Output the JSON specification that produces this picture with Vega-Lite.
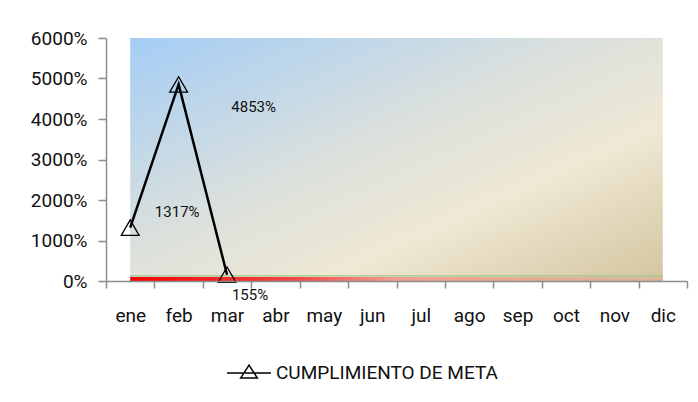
{
  "$schema": "https://vega.github.io/schema/vega-lite/v6.json",
  "width": 581,
  "height": 243,
  "autosize": {"type": "none"},
  "padding": {"left": 106, "top": 38, "right": 11, "bottom": 121},
  "background": "white",
  "config": {"view": {"stroke": null}, "font": "Roboto, sans-serif"},
  "datasets": {
    "cumplimiento": [
      {"mes": "ene", "valor": 1317, "serie": "CUMPLIMIENTO DE META"},
      {"mes": "feb", "valor": 4853, "serie": "CUMPLIMIENTO DE META"},
      {"mes": "mar", "valor": 155, "serie": "CUMPLIMIENTO DE META"}
    ],
    "fondo": [{"desde": "ene", "hasta": "dic", "minimo": 0, "maximo": 6000}],
    "meta": [
      {"mes": "ene", "meta": 125, "base": 100},
      {"mes": "feb", "meta": 125, "base": 100},
      {"mes": "mar", "meta": 125, "base": 100},
      {"mes": "abr", "meta": 125, "base": 100},
      {"mes": "may", "meta": 125, "base": 100},
      {"mes": "jun", "meta": 125, "base": 100},
      {"mes": "jul", "meta": 125, "base": 100},
      {"mes": "ago", "meta": 125, "base": 100},
      {"mes": "sep", "meta": 125, "base": 100},
      {"mes": "oct", "meta": 125, "base": 100},
      {"mes": "nov", "meta": 125, "base": 100},
      {"mes": "dic", "meta": 125, "base": 100}
    ]
  },
  "resolve": {"scale": {"x": "shared", "y": "shared"}},
  "layer": [
    {
      "data": {"name": "fondo"},
      "mark": {
        "type": "rect",
        "fill": {
          "gradient": "linear", "x1": 0, "y1": 0, "x2": 1, "y2": 1,
          "stops": [
            {"offset": 0, "color": "#a4cdf5"},
            {"offset": 0.45, "color": "#dde1dc"},
            {"offset": 0.68, "color": "#efe8d4"},
            {"offset": 1, "color": "#d3c59f"}
          ]
        }
      },
      "encoding": {
        "x": {"field": "desde", "type": "ordinal", "bandPosition": 0.5,
              "scale": {"domain": ["ene","feb","mar","abr","may","jun","jul","ago","sep","oct","nov","dic"], "paddingInner": 0, "paddingOuter": 0},
              "axis": {"title": null, "labelAngle": 0, "domainColor": "#8c8c8c", "tickColor": "#8c8c8c", "tickSize": 7, "tickBand": "extent", "labelFontSize": 19, "labelColor": "#111", "labelPadding": 18, "domainWidth": 1.5, "tickWidth": 1.5}},
        "x2": {"field": "hasta", "bandPosition": 0.5},
        "y": {"field": "minimo", "type": "quantitative", "scale": {"domain": [0, 6000], "nice": false},
              "axis": {"title": null, "values": [0, 1000, 2000, 3000, 4000, 5000, 6000], "labelExpr": "datum.value + '%'", "grid": false, "domainColor": "#8c8c8c", "tickColor": "#8c8c8c", "tickSize": 8, "labelFontSize": 19, "labelColor": "#111", "labelPadding": 11, "domainWidth": 1.5, "tickWidth": 1.5}},
        "y2": {"field": "maximo"}
      }
    },
    {
      "data": {"name": "meta"},
      "mark": {
        "type": "area",
        "fill": {
          "gradient": "linear", "x1": 0, "y1": 0, "x2": 1, "y2": 0,
          "stops": [
            {"offset": 0, "color": "#ff0000"},
            {"offset": 0.3, "color": "#f24545"},
            {"offset": 0.5, "color": "#f3a090"},
            {"offset": 1, "color": "#d9b89a"}
          ]
        }
      },
      "encoding": {
        "x": {"field": "mes", "type": "ordinal"},
        "y": {"field": "base", "type": "quantitative"}
      }
    },
    {
      "data": {"name": "meta"},
      "mark": {"type": "line", "color": "#9bc78a", "strokeWidth": 1.2},
      "encoding": {
        "x": {"field": "mes", "type": "ordinal"},
        "y": {"field": "meta", "type": "quantitative"}
      }
    },
    {
      "data": {"name": "cumplimiento"},
      "mark": {"type": "line", "strokeWidth": 2.5},
      "encoding": {
        "x": {"field": "mes", "type": "ordinal"},
        "y": {"field": "valor", "type": "quantitative"},
        "color": {"field": "serie", "type": "nominal", "scale": {"range": ["#000000"]},
                  "legend": {"title": null, "orient": "none", "legendX": 120, "legendY": 312, "labelFontSize": 19, "labelColor": "#111", "labelLimit": 400,
                             "symbolType": "M-1,0H1M-0.38,0.23L0,-0.36L0.38,0.23Z", "symbolSize": 1936, "symbolStrokeWidth": 1.5, "symbolFillColor": "transparent", "symbolStrokeColor": "#000", "labelOffset": 4}}
      }
    },
    {
      "data": {"name": "cumplimiento"},
      "mark": {"type": "point", "shape": "triangle-up", "size": 320, "filled": false, "color": "#000", "strokeWidth": 1.3, "opacity": 1},
      "encoding": {
        "x": {"field": "mes", "type": "ordinal"},
        "y": {"field": "valor", "type": "quantitative"}
      }
    },
    {
      "data": {"name": "cumplimiento"},
      "transform": [{"filter": "datum.mes == 'ene'"}, {"calculate": "datum.valor + '%'", "as": "etiqueta"}],
      "mark": {"type": "text", "fontSize": 15, "color": "#111", "dx": 47, "dy": -16},
      "encoding": {
        "x": {"field": "mes", "type": "ordinal"},
        "y": {"field": "valor", "type": "quantitative"},
        "text": {"field": "etiqueta"}
      }
    },
    {
      "data": {"name": "cumplimiento"},
      "transform": [{"filter": "datum.mes == 'feb'"}, {"calculate": "datum.valor + '%'", "as": "etiqueta"}],
      "mark": {"type": "text", "fontSize": 15, "color": "#111", "dx": 75, "dy": 23},
      "encoding": {
        "x": {"field": "mes", "type": "ordinal"},
        "y": {"field": "valor", "type": "quantitative"},
        "text": {"field": "etiqueta"}
      }
    },
    {
      "data": {"name": "cumplimiento"},
      "transform": [{"filter": "datum.mes == 'mar'"}, {"calculate": "datum.valor + '%'", "as": "etiqueta"}],
      "mark": {"type": "text", "fontSize": 15, "color": "#111", "dx": 23, "dy": 20},
      "encoding": {
        "x": {"field": "mes", "type": "ordinal"},
        "y": {"field": "valor", "type": "quantitative"},
        "text": {"field": "etiqueta"}
      }
    }
  ]
}
